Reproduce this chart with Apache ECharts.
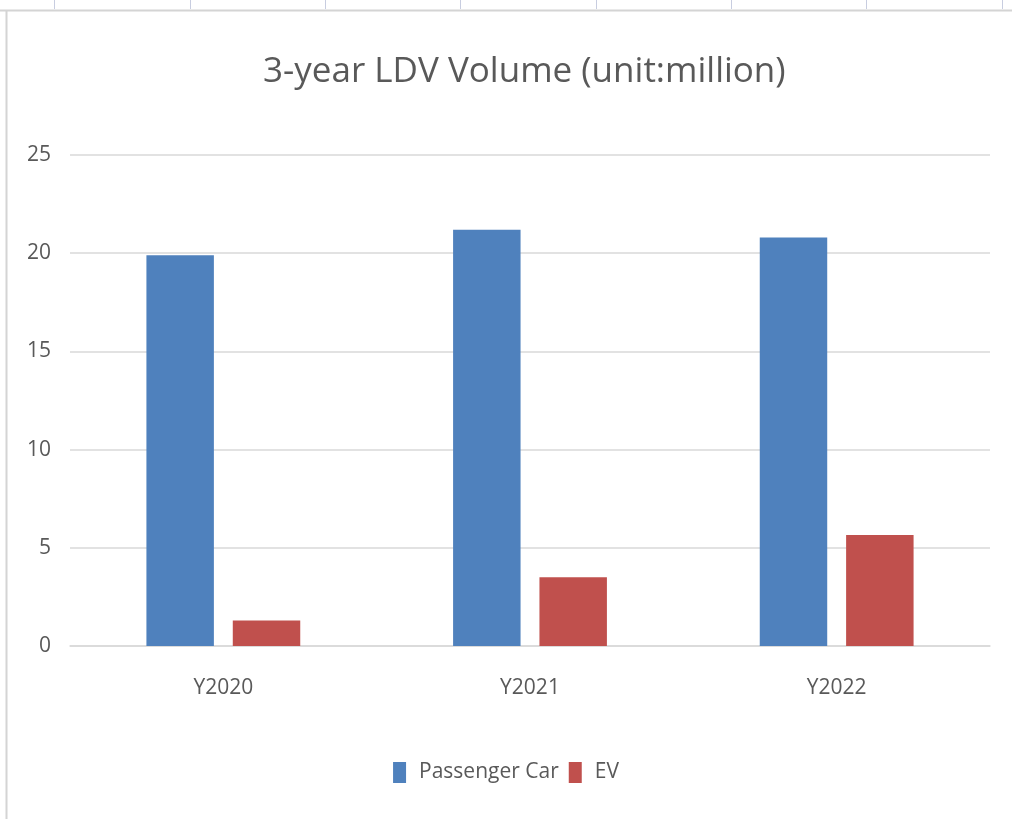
<!DOCTYPE html>
<html><head><meta charset="utf-8">
<script src="https://cdn.jsdelivr.net/npm/echarts@6/dist/echarts.min.js"></script>
<style>html,body{margin:0;padding:0;background:#fff}#c{width:1012px;height:819px}</style>
</head><body><div id="c"></div>
<script>
const categories = ['Y2020', 'Y2021', 'Y2022'];
const passengerCar = [19.9, 21.2, 20.8];
const ev = [1.3, 3.5, 5.65];
const yTicks = [0, 5, 10, 15, 20, 25];

const chart = echarts.init(document.getElementById('c'));
const font = '"Open Sans", sans-serif';
const colTicks = [54, 190, 325, 460, 596, 731, 866, 1002];
const graphics = [
  {type:'line', shape:{x1:0,y1:10.5,x2:1012,y2:10.5}, style:{stroke:'#d4d4d4',lineWidth:2}},
  {type:'line', shape:{x1:6.5,y1:10,x2:6.5,y2:819}, style:{stroke:'#d4d4d4',lineWidth:2}}
].concat(colTicks.map(x => ({type:'line', shape:{x1:x+0.5,y1:0,x2:x+0.5,y2:9}, style:{stroke:'#c8cde0',lineWidth:1}})));

chart.setOption({
  animation:false,
  backgroundColor:'#fff',
  graphic: graphics,
  title:{text:'3-year LDV Volume (unit:million)', left:258, top:50,
    textStyle:{fontFamily:font, fontSize:35, fontWeight:'normal', color:'#595959'}},
  legend:{bottom:31, left:'center', itemWidth:13, itemHeight:21, itemGap:10,
    icon:'rect',
    textStyle:{fontFamily:font, fontSize:21, color:'#595959', padding:[0,0,0,8]}},
  grid:{left:70, right:22, top:155, bottom:173, containLabel:false},
  xAxis:{type:'category', data:categories,
    axisLine:{lineStyle:{color:'#d9d9d9', width:1.5}}, axisTick:{show:false},
    axisLabel:{fontFamily:font, fontSize:21, color:'#595959', margin:32}},
  yAxis:{type:'value', min:0, max:25, interval:5,
    axisLine:{show:false}, axisTick:{show:false},
    splitLine:{lineStyle:{color:'#d9d9d9', width:1.5}},
    axisLabel:{fontFamily:font, fontSize:21, color:'#595959', margin:19,
      formatter: v => yTicks.includes(v) ? String(v) : ''}},
  series:[
    {name:'Passenger Car', type:'bar', data:passengerCar, barWidth:'22%', barGap:'28%',
      itemStyle:{color:'#4F81BD'}},
    {name:'EV', type:'bar', data:ev, barWidth:'22%',
      itemStyle:{color:'#C0504D'}}
  ]
});
</script></body></html>
